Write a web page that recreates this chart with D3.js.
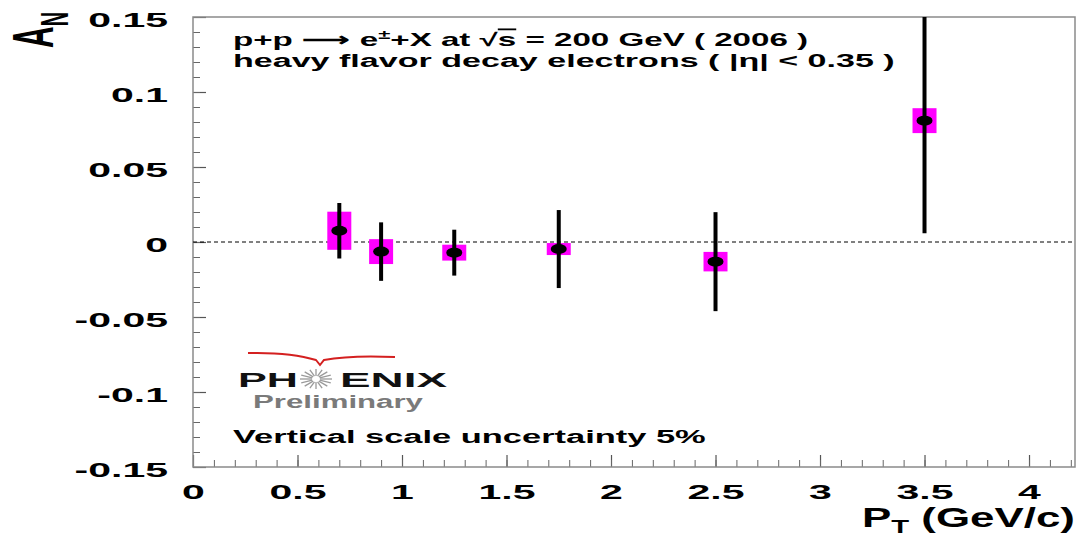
<!DOCTYPE html>
<html>
<head>
<meta charset="utf-8">
<script src="https://cdn.jsdelivr.net/npm/d3@7"></script>
<style>
  html, body { margin: 0; padding: 0; background: #fff; }
  svg { display: block; }
  text { font-family: "Liberation Sans", Arial, Helvetica, sans-serif; font-weight: bold; }
</style>
</head>
<body>
<svg id="chart" width="1079" height="540"></svg>
<script>
// Transverse single-spin asymmetry of heavy flavor decay electrons
const ptValues   = [0.70, 0.90, 1.25, 1.75, 2.50, 3.50];          // GeV/c
const anValues   = [0.0075, -0.0064, -0.0071, -0.0047, -0.0131, 0.0809];
const statErrors = [0.0185, 0.0195, 0.0153, 0.0260, 0.0330, 0.0750];
const sysErrors  = [0.0127, 0.0083, 0.0053, 0.0040, 0.0065, 0.0083];

const yTickValues = [-0.15, -0.1, -0.05, 0, 0.05, 0.1, 0.15];
const yTickLabels = ["-0.15", "-0.1", "-0.05", "0", "0.05", "0.1", "0.15"];
const xTickValues = [0, 0.5, 1, 1.5, 2, 2.5, 3, 3.5, 4];
const xTickLabels = ["0", "0.5", "1", "1.5", "2", "2.5", "3", "3.5", "4"];

const xDomain = [0, 4.22];
const yDomain = [-0.15, 0.15];

const frame = { left: 193, right: 1075, top: 17, bottom: 467 };
const stretch = 2.05;           // horizontal widening of lettering
const sysBoxWidth = 24;
const magenta = "#ff00ff";
const frameColor = "#8a8a8a";

const svg = d3.select("#chart");

const x = d3.scaleLinear().domain(xDomain).range([frame.left, frame.right]);
const y = d3.scaleLinear().domain(yDomain).range([frame.bottom, frame.top]);

svg.append("defs").append("clipPath").attr("id", "plotClip")
  .append("rect")
  .attr("x", frame.left).attr("y", frame.top)
  .attr("width", frame.right - frame.left).attr("height", frame.bottom - frame.top);

// Fit a text element to a given width by widening it horizontally
function fitText(sel, x0, baseline, width) {
  const node = sel.node();
  const w = node.getBBox().width;
  sel.attr("transform", `translate(${x0},${baseline}) scale(${width / w},1)`);
}

// ---- axes: ticks drawn inward from the frame ----
const yMajor = svg.append("g").attr("transform", `translate(${frame.left},0)`)
  .call(d3.axisLeft(y).tickValues(yTickValues).tickSize(-13).tickSizeOuter(0)
        .tickPadding(25).tickFormat((d, i) => yTickLabels[i]));
yMajor.select(".domain").remove();
yMajor.selectAll("line").attr("stroke", "#555").attr("stroke-width", 1.2);
yMajor.selectAll("text")
  .attr("x", 0).attr("dy", null)
  .attr("font-size", 20).attr("fill", "#000").attr("font-family", null)
  .attr("transform", `translate(-25,9) scale(${stretch},1)`);

const yMinor = svg.append("g").attr("transform", `translate(${frame.left},0)`)
  .call(d3.axisLeft(y).ticks(30).tickSize(-7).tickSizeOuter(0).tickFormat(""));
yMinor.select(".domain").remove();
yMinor.selectAll("line").attr("stroke", "#666").attr("stroke-width", 1);

const xMajor = svg.append("g").attr("transform", `translate(0,${frame.bottom})`)
  .call(d3.axisBottom(x).tickValues(xTickValues).tickSize(-12).tickSizeOuter(0)
        .tickFormat((d, i) => xTickLabels[i]));
xMajor.select(".domain").remove();
xMajor.selectAll("line").attr("stroke", "#555").attr("stroke-width", 1.2);
xMajor.selectAll("text")
  .attr("y", 0).attr("dy", null)
  .attr("font-size", 20).attr("fill", "#000").attr("font-family", null)
  .attr("transform", `translate(0,32) scale(${stretch},1)`);

const xMinor = svg.append("g").attr("transform", `translate(0,${frame.bottom})`)
  .call(d3.axisBottom(x).ticks(42).tickSize(-7).tickSizeOuter(0).tickFormat(""));
xMinor.select(".domain").remove();
xMinor.selectAll("line").attr("stroke", "#666").attr("stroke-width", 1);

// ---- frame ----
svg.append("rect")
  .attr("x", frame.left).attr("y", frame.top)
  .attr("width", frame.right - frame.left).attr("height", frame.bottom - frame.top)
  .attr("fill", "none").attr("stroke", frameColor).attr("stroke-width", 1.5);

// ---- zero reference line ----
svg.append("line")
  .attr("x1", frame.left).attr("x2", frame.right)
  .attr("y1", y(0)).attr("y2", y(0))
  .attr("stroke", "#000").attr("stroke-width", 1).attr("stroke-dasharray", "4,3");

// ---- data ----
const points = ptValues.map((pt, i) => ({
  pt, an: anValues[i], stat: statErrors[i], sys: sysErrors[i]
}));

const plot = svg.append("g").attr("clip-path", "url(#plotClip)");

plot.selectAll("rect.sys").data(points).join("rect")
  .attr("class", "sys")
  .attr("x", d => x(d.pt) - sysBoxWidth / 2)
  .attr("y", d => y(d.an + d.sys))
  .attr("width", sysBoxWidth)
  .attr("height", d => y(d.an - d.sys) - y(d.an + d.sys))
  .attr("fill", magenta);

plot.selectAll("line.stat").data(points).join("line")
  .attr("class", "stat")
  .attr("x1", d => x(d.pt)).attr("x2", d => x(d.pt))
  .attr("y1", d => y(d.an + d.stat)).attr("y2", d => y(d.an - d.stat))
  .attr("stroke", "#000").attr("stroke-width", 4);

plot.selectAll("ellipse.pt").data(points).join("ellipse")
  .attr("class", "pt")
  .attr("cx", d => x(d.pt)).attr("cy", d => y(d.an))
  .attr("rx", 8).attr("ry", 5)
  .attr("fill", "#000");

// ---- annotations ----
const t1 = svg.append("text").attr("font-size", 18).attr("fill", "#000");
t1.append("tspan").text("p+p \u27f6 e");
t1.append("tspan").attr("font-size", 12).attr("dy", -7).text("\u00b1");
t1.append("tspan").attr("dy", 7).text("+X at \u221a");
t1.append("tspan").attr("text-decoration", "overline").style("text-decoration", "overline").text("s");
t1.append("tspan").text(" = 200 GeV ( 2006 )");
fitText(t1, 233, 46, 575);

const t2 = svg.append("text").attr("font-size", 18).attr("fill", "#000")
  .text("heavy flavor decay electrons ( |\u03b7| < 0.35 )");
fitText(t2, 233, 67, 662);

const t3 = svg.append("text").attr("font-size", 18).attr("fill", "#000")
  .text("Vertical scale uncertainty 5%");
fitText(t3, 233, 443, 473);

// PHENIX logo
const logo = svg.append("g");
logo.append("path")
  .attr("d", "M248,353 Q290,352 316,360 L320,365 L324,360 Q350,355 395,357")
  .attr("fill", "none").attr("stroke", "#d42020").attr("stroke-width", 2);
const ph = logo.append("text").attr("font-size", 21).attr("fill", "#111").text("PH");
fitText(ph, 238, 387, 60);
const enix = logo.append("text").attr("font-size", 21).attr("fill", "#111").text("ENIX");
fitText(enix, 340, 387, 107);
const star = logo.append("g").attr("transform", "translate(316,379)");
d3.range(16).forEach(k => {
  const a = k * Math.PI / 8;
  star.append("line")
    .attr("x1", 4 * Math.cos(a)).attr("y1", 3 * Math.sin(a))
    .attr("x2", 16 * Math.cos(a)).attr("y2", 10 * Math.sin(a))
    .attr("stroke", "#9a9a9a").attr("stroke-width", 1.3);
});
const prelim = logo.append("text").attr("font-size", 18).attr("fill", "#7a7a7a").text("Preliminary");
fitText(prelim, 253, 408, 170);

// ---- axis titles ----
const xt = svg.append("text").attr("font-size", 27).attr("fill", "#000");
xt.append("tspan").text("P");
xt.append("tspan").attr("font-size", 18).attr("dy", 6).text("T");
xt.append("tspan").attr("dy", -6).text(" (GeV/c)");
fitText(xt, 862, 527, 213);

const yt = svg.append("text").attr("font-size", 30).attr("fill", "#000")
  .attr("transform", "translate(53,48) scale(1.9,1) rotate(-90)");
yt.append("tspan").text("A");
yt.append("tspan").attr("font-size", 20).attr("dy", 8).text("N");
</script>
</body>
</html>
